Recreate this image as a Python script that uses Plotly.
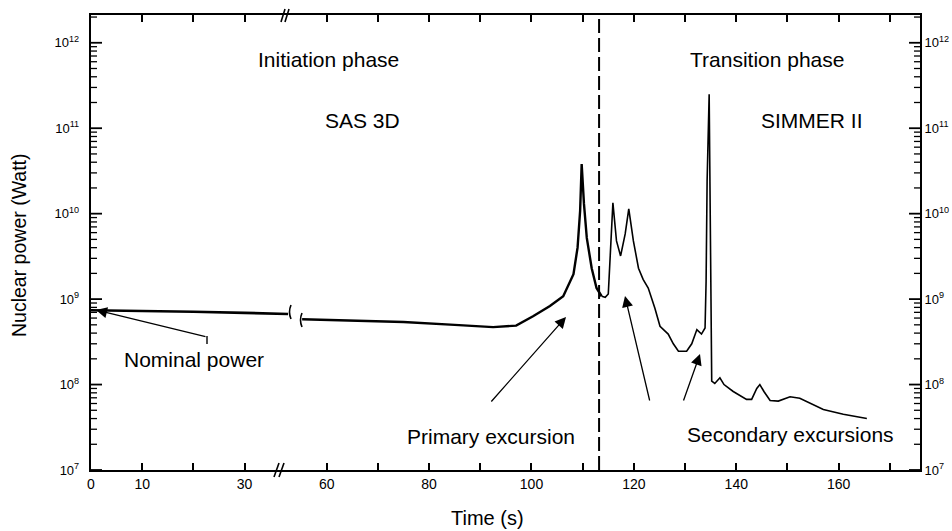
import math
import plotly.graph_objects as go

# ---------------- data ----------------
# Initiation phase, first part (before the time-axis break)
t_init = [0, 10, 20, 30, 38.5]
p_init = [7.4e8, 7.3e8, 7.1e8, 6.9e8, 6.7e8]

# Initiation phase (SAS 3D) after the axis break, up to the primary excursion
t_sas = [55.2, 65, 75, 85, 92.5, 97, 100.3, 103.6, 106.2, 108.2, 109.0, 109.5,
         109.8, 110.25, 110.8, 111.76, 112.7, 113.7]
p_sas = [5.8e8, 5.6e8, 5.4e8, 5.0e8, 4.7e8, 4.9e8, 6.3e8, 8.3e8, 1.08e9, 1.96e9,
         4.0e9, 1.08e10, 3.8e10, 1.3e10, 5.2e9, 2.3e9, 1.35e9, 1.08e9]

# Transition phase (SIMMER II)
t_simmer = [113.7, 114.4, 115.0, 115.5, 115.9, 116.6, 117.4, 118.3, 119.0, 119.9,
            120.9, 121.8, 122.8, 124.1, 125.1, 126.7, 127.7, 128.7, 130.3, 131.3,
            132.3, 133.2, 133.9, 134.1, 134.3, 134.7, 134.9, 135.2, 135.8, 136.8,
            137.6, 139.4, 142.0, 143.0, 144.0, 144.6, 145.4, 146.6, 148.2, 150.5,
            152.4, 157.0, 160.9, 165.5]
p_simmer = [1.08e9, 1.05e9, 1.15e9, 4.0e9, 1.34e10, 4.8e9, 3.2e9, 5.8e9, 1.14e10, 4.8e9,
            2.3e9, 1.7e9, 1.35e9, 7.8e8, 4.8e8, 3.9e8, 3.0e8, 2.45e8, 2.45e8, 3.0e8,
            4.4e8, 3.9e8, 4.6e8, 1.6e9, 2.4e10, 2.5e11, 1.4e10, 1.1e8, 1.03e8, 1.2e8,
            1.0e8, 8.3e7, 6.7e7, 6.7e7, 9.0e7, 1.0e8, 8.3e7, 6.5e7, 6.4e7, 7.2e7,
            6.9e7, 5.1e7, 4.5e7, 4.0e7]

phase_boundary_t = 113.2

x1_ticks = [0, 10, 20, 30]
x1_labels = ["0", "10", "", "30"]
x2_ticks = [60, 70, 80, 90, 100, 110, 120, 130, 140, 150, 160, 170]
x2_labels = ["60", "", "80", "", "100", "", "120", "", "140", "", "160", ""]

y_decades = [7, 8, 9, 10, 11, 12]
y_minor_digits = [2, 3, 4, 5, 6, 7, 8, 9]

# ---------------- layout geometry ----------------
W, H = 952, 531
ML, MR, MT, MB = 91, 32, 15, 61
PW = W - ML - MR
PH = H - MT - MB
SPLIT_PX = 295


def px(x):
    return (x - ML) / PW


def py(y):
    return (H - MB - y) / PH


FONT = "Liberation Sans, Arial, Helvetica, sans-serif"
BLACK = "black"
Y_RANGE = [7.0, 12.325]

major_vals = [10 ** e for e in y_decades]
minor_vals = [d * 10 ** e for e in y_decades for d in y_minor_digits if e < 12 or d < 3]

fig = go.Figure()
fig.add_trace(go.Scatter(x=t_init, y=p_init, mode="lines", xaxis="x", yaxis="y",
                         line=dict(color=BLACK, width=2.6)))
fig.add_trace(go.Scatter(x=t_sas, y=p_sas, mode="lines", xaxis="x2", yaxis="y",
                         line=dict(color=BLACK, width=2.4)))
fig.add_trace(go.Scatter(x=t_simmer, y=p_simmer, mode="lines", xaxis="x2", yaxis="y2",
                         line=dict(color=BLACK, width=1.6)))

common_x = dict(showline=True, linewidth=2, linecolor=BLACK, mirror="ticks",
                ticks="inside", ticklen=7, tickwidth=1.5, tickcolor=BLACK,
                showgrid=False, zeroline=False, tickmode="array", automargin=False,
                tickfont=dict(family=FONT, size=14, color=BLACK))
common_y = dict(type="log", range=Y_RANGE, tickmode="array", tickvals=major_vals,
                showline=True, linewidth=2, linecolor=BLACK,
                ticks="", showgrid=False, zeroline=False, automargin=False,
                tickfont=dict(family=FONT, size=13, color=BLACK))

fig.update_layout(
    width=W, height=H,
    margin=dict(l=ML, r=MR, t=MT, b=MB, autoexpand=False),
    paper_bgcolor="white", plot_bgcolor="white", showlegend=False, hovermode=False,
    xaxis=dict(domain=[0, px(SPLIT_PX)], range=[0, (SPLIT_PX - ML) / 5.12], anchor="y",
               tickvals=x1_ticks, ticktext=x1_labels, **common_x),
    xaxis2=dict(domain=[px(SPLIT_PX), 1], range=[53.81, 175.88], anchor="y",
                tickvals=x2_ticks, ticktext=x2_labels, **common_x),
    yaxis=dict(anchor="x", side="left",
               ticktext=[f"10<sup>{e}</sup>\u00a0\u00a0" for e in y_decades], **common_y),
    yaxis2=dict(anchor="x2", side="right", overlaying="y",
                ticktext=[f"10<sup>{e}</sup>" for e in y_decades], **common_y),
)


# y-axis tick marks (inside, both sides), placed from the tick values on the log scale
def y_frac(v):
    return (math.log10(v) - Y_RANGE[0]) / (Y_RANGE[1] - Y_RANGE[0])


for vals, length, width in [(major_vals, 11, 1.8), (minor_vals, 6, 1.3)]:
    for v in vals:
        f = y_frac(v)
        if f < 0 or f > 1:
            continue
        fig.add_shape(type="line", xref="paper", yref="paper", x0=0, x1=length / PW,
                      y0=f, y1=f, line=dict(color=BLACK, width=width))
        fig.add_shape(type="line", xref="paper", yref="paper", x0=1 - length / PW, x1=1,
                      y0=f, y1=f, line=dict(color=BLACK, width=width))

# phase boundary
fig.add_shape(type="line", xref="x2", yref="paper", x0=phase_boundary_t, x1=phase_boundary_t,
              y0=0, y1=1, line=dict(color=BLACK, width=2, dash="14px,5px"))

# axis break marks
for (xa, ya) in [(274, 477), (279, 477)]:
    fig.add_shape(type="line", xref="paper", yref="paper",
                  x0=px(xa), y0=py(ya), x1=px(xa + 5), y1=py(ya - 14),
                  line=dict(color=BLACK, width=1.6))
for (xa, ya) in [(281, 22), (285, 22)]:
    fig.add_shape(type="line", xref="paper", yref="paper",
                  x0=px(xa), y0=py(ya), x1=px(xa + 4), y1=py(ya - 13),
                  line=dict(color=BLACK, width=1.6))
# curve break marks
fig.add_shape(type="path", xref="paper", yref="paper",
              path=f"M {px(291)},{py(305)} Q {px(288)},{py(312)} {px(291)},{py(319)}",
              line=dict(color=BLACK, width=1.6))
fig.add_shape(type="path", xref="paper", yref="paper",
              path=f"M {px(302)},{py(313)} Q {px(299)},{py(320)} {px(302)},{py(327)}",
              line=dict(color=BLACK, width=1.6))
# hook at the tail of the nominal power arrow
fig.add_shape(type="line", xref="paper", yref="paper",
              x0=px(207), y0=py(336), x1=px(207), y1=py(344),
              line=dict(color=BLACK, width=1.4))

TXT = dict(family=FONT, size=21, color=BLACK)
texts = [
    ("Initiation phase", 328, 60),
    ("SAS 3D", 362, 121),
    ("Transition phase", 767, 60),
    ("SIMMER II", 812, 121),
    ("Nominal power", 194, 359),
    ("Primary excursion", 491, 436),
    ("Secondary excursions", 790, 434),
]
for s, x, y in texts:
    fig.add_annotation(text=s, x=px(x), y=py(y), xref="paper", yref="paper",
                       showarrow=False, font=TXT, xanchor="center", yanchor="middle")

fig.add_annotation(text="Time (s)", x=px(487), y=py(518), xref="paper", yref="paper",
                   xanchor="center", yanchor="middle",
                   showarrow=False, font=dict(family=FONT, size=20, color=BLACK))
fig.add_annotation(text="Nuclear power (Watt)", x=px(19), y=py(245), xref="paper", yref="paper",
                   xanchor="center", yanchor="middle",
                   showarrow=False, textangle=-90, font=dict(family=FONT, size=19.5, color=BLACK))

# arrows: (tip, tail) in pixels
arrows = [((96, 310), (207, 337)),
          ((566, 317), (490, 403)),
          ((625, 296), (650, 402)),
          ((700, 354), (683, 402))]
for (tx, ty), (sx, sy) in arrows:
    fig.add_annotation(text="", x=px(tx), y=py(ty), xref="paper", yref="paper",
                       ax=sx - tx, ay=sy - ty, showarrow=True, arrowhead=2,
                       arrowsize=1.7, arrowwidth=1.3, arrowcolor=BLACK)

fig.write_html("out.html")
